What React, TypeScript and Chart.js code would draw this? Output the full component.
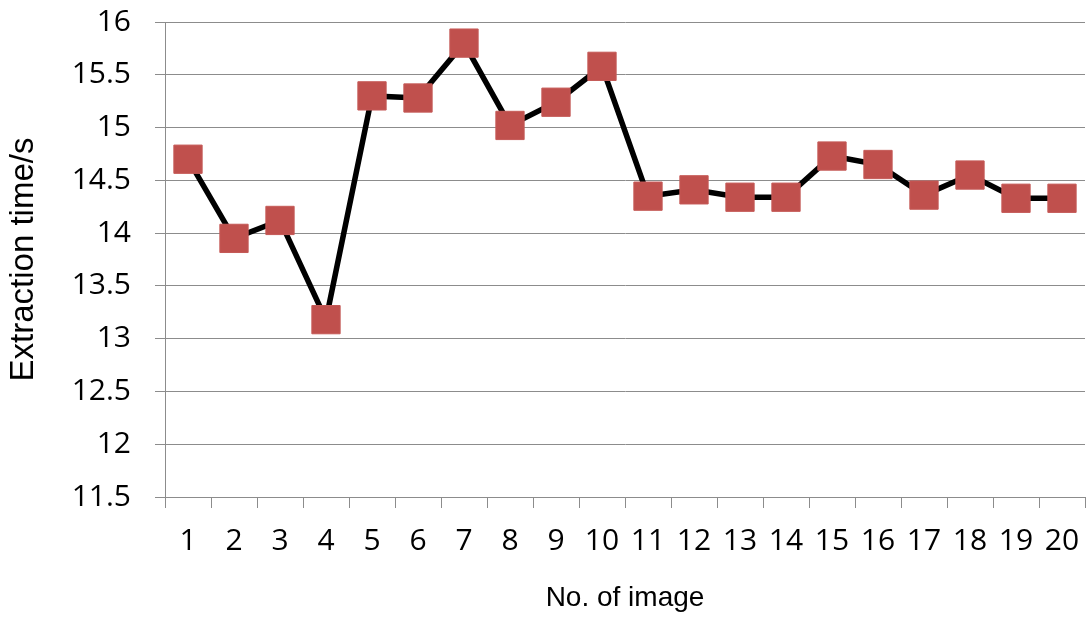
import React, { useEffect, useRef } from "react";
import { Chart, registerables } from "chart.js";

Chart.register(...registerables);

const categories: string[] = [
  "1", "2", "3", "4", "5", "6", "7", "8", "9", "10",
  "11", "12", "13", "14", "15", "16", "17", "18", "19", "20",
];
const extractionTimes: number[] = [
  14.7, 13.95, 14.12, 13.18, 15.3, 15.28, 15.8, 15.02, 15.24, 15.58,
  14.35, 14.41, 14.34, 14.34, 14.73, 14.65, 14.36, 14.55, 14.33, 14.33,
];
const yMin = 11.5;
const yMax = 16;
const yStep = 0.5;
const xTitle = "No. of image";
const yTitle = "Extraction time/s";

export default function App() {
  const ref = useRef<HTMLCanvasElement | null>(null);

  useEffect(() => {
    if (!ref.current) return;
    const gridColor = "#8c8c8c";
    const chart = new Chart(ref.current, {
      type: "line",
      data: {
        labels: categories,
        datasets: [
          {
            data: extractionTimes,
            borderColor: "#000000",
            borderWidth: 5.5,
            pointStyle: "rect",
            pointRadius: 20,
            pointBackgroundColor: "#C0504D",
            pointBorderColor: "#C55A57",
            pointBorderWidth: 1,
            tension: 0,
            fill: false,
          },
        ],
      },
      options: {
        animation: false,
        responsive: true,
        maintainAspectRatio: false,
        events: [],
        layout: { autoPadding: false, padding: { top: 22, right: 4, bottom: 0, left: 0 } },
        plugins: {
          legend: { display: false },
          tooltip: { enabled: false },
        },
        scales: {
          x: {
            type: "category",
            offset: true,
            grid: {
              display: true,
              offset: true,
              drawOnChartArea: false,
              drawTicks: true,
              tickLength: 11,
              color: gridColor,
            },
            border: { display: true, color: gridColor, width: 1 },
            ticks: {
              color: "#000",
              font: { family: "Open Sans", size: 30 },
              padding: 15,
              maxRotation: 0,
              autoSkip: false,
            },
            title: {
              display: true,
              text: xTitle,
              color: "#000",
              font: { family: "Liberation Sans", size: 28 },
              padding: { top: 0, bottom: 2 },
            },
            afterFit: (s: any) => {
              s.height = 120;
              s.paddingLeft = 0;
              s.paddingRight = 0;
            },
          },
          y: {
            min: yMin,
            max: yMax,
            grid: {
              color: gridColor,
              tickLength: 10,
              drawTicks: true,
            },
            border: { display: true, color: gridColor, width: 1 },
            ticks: {
              stepSize: yStep,
              color: "#000",
              font: { family: "Open Sans", size: 30 },
              padding: 24,
              callback: (v: any) => String(Number(v)),
            },
            title: {
              display: true,
              text: yTitle,
              color: "#000",
              font: { family: "Liberation Sans", size: 33 },
              padding: { top: 4, bottom: 0 },
            },
            afterFit: (s: any) => {
              s.width = 165;
              s.paddingTop = 0;
              s.paddingBottom = 0;
            },
          },
        },
      },
    });
    return () => chart.destroy();
  }, []);

  return (
    <div style={{ position: "absolute", left: 0, top: 0, width: 1089, height: 617 }}>
      <canvas ref={ref} />
    </div>
  );
}
